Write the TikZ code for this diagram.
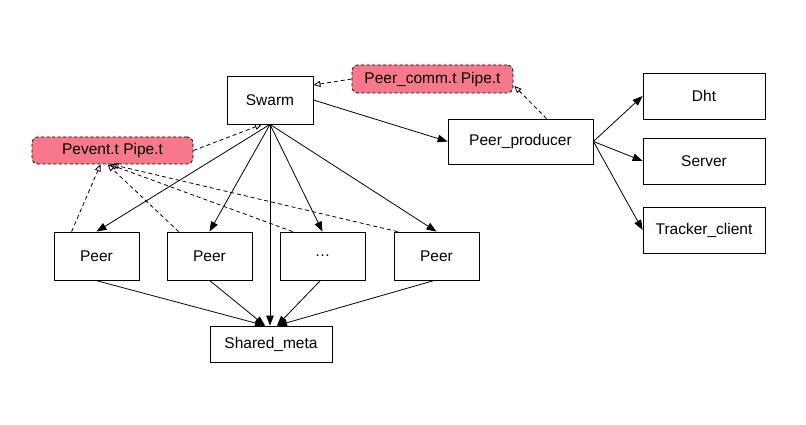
\documentclass[tikz,border=0pt]{standalone}
\usepackage{fontspec}
\setmainfont{Liberation Sans}
\usepackage{xcolor}
\usetikzlibrary{arrows.meta, positioning, calc}
\definecolor{PipePink}{HTML}{F7788A}
\tikzset{
    compbox/.style={rectangle, minimum width=85pt, minimum height=48pt,
        text centered, draw=black, fill=white, line width=0.8pt, font=\fontsize{15.5}{18}\selectfont},
    pipebox/.style={rectangle, rounded corners=6pt, minimum width=161pt, minimum height=28pt,
        text centered, draw=black, dash pattern=on 3pt off 2.5pt, fill=PipePink, line width=0.8pt, font=\fontsize{15.5}{18}\selectfont},
    ownarrow/.style={-{Triangle[length=10pt, width=7.5pt]}, line width=0.8pt},
    pipearrow/.style={-{Triangle[open, length=7pt, width=6pt]}, dash pattern=on 4pt off 3pt, line width=0.8pt},
}
\begin{document}
\begin{tikzpicture}[x=1pt, y=-1pt]
    \useasboundingbox (0,0) rectangle (806,425);
    % components
    \node[compbox, minimum width=86pt] (swarm) at (270,100) {Swarm};
    \node[compbox, minimum width=145pt, minimum height=45pt] (producer) at (520.5,141.5) {Peer\_producer};
    \node[compbox, minimum width=122pt, minimum height=46pt] (dht) at (704,96) {Dht};
    \node[compbox, minimum width=122pt, minimum height=46pt] (server) at (704,161) {Server};
    \node[compbox, minimum width=122pt, minimum height=46pt] (tracker) at (704,230) {Tracker\_client};
    \foreach \i/\x/\t in {1/96.5/Peer, 2/209.5/Peer, 3/322.5/{\ldots}, 4/436.5/Peer}
        \node[compbox] (peer\i) at (\x,256) {\t};
    \node[compbox, minimum width=122pt, minimum height=36pt] (shared) at (271,344) {Shared\_meta};

    % pipes
    \node[pipebox, minimum height=27pt] (pevent) at (112.5,150.5) {Pevent.t Pipe.t};
    \node[pipebox] (pcomm) at (432.5,79) {Peer\_comm.t Pipe.t};

    % ownership
    \draw[ownarrow] (swarm.east) -- (producer.west);
    \foreach \c in {dht, server, tracker}
        \draw[ownarrow] (producer.east) -- (\c.west);
    \foreach \i in {1,...,4}
        \draw[ownarrow] (swarm.south) -- (peer\i.north);
    \draw[ownarrow] (swarm.south) -- ($(shared.north)+(-1,0)$);
    \draw[ownarrow] ($(peer1.south)+(-1,0)$) -- ($(shared.north)+(-6,0)$);
    \draw[ownarrow] (peer2.south) -- ($(shared.north)+(-6,0)$);
    \draw[ownarrow] ($(peer3.south)+(-2,0)$) -- ($(shared.north)+(6,0)$);
    \draw[ownarrow] ($(peer4.south)+(-2,0)$) -- ($(shared.north)+(6,0)$);

    % pipe readers
    \draw[pipearrow] (pevent.east) -- ($(swarm.south)+(-8,0)$);
    \draw[pipearrow] (pcomm.west) -- ($(swarm.east)+(0,-15)$);
    \draw[pipearrow] ($(producer.north)+(26,0)$) -- ($(pcomm.east)+(1,7)$);
    \draw[pipearrow] ($(peer1.north west)+(18,0)$) -- ($(pevent.south)+(-12,0)$);
    \draw[pipearrow] ($(peer2.north west)+(12,0)$) -- ($(pevent.south)+(-5,0)$);
    \draw[pipearrow] ($(peer3.north west)+(13,0)$) -- ($(pevent.south)+(-3,0)$);
    \draw[pipearrow] ($(peer4.north west)+(4,0)$) -- ($(pevent.south)+(-1,0)$);
\end{tikzpicture}
\end{document}
